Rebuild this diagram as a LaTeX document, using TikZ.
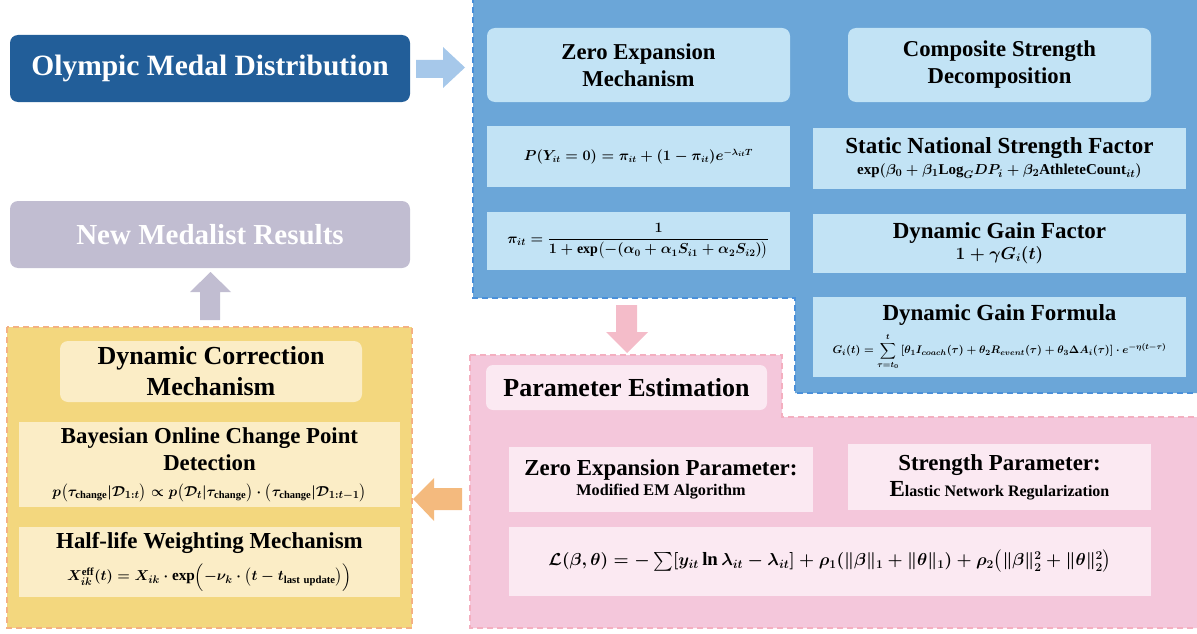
\documentclass[tikz,border=0pt]{standalone}
\usepackage{amsmath,amssymb}
\usepackage{fontspec}
\setmainfont{Liberation Serif}
\definecolor{cOly}{HTML}{225E99}
\definecolor{cNew}{HTML}{C1BDD1}
\definecolor{cBluePanel}{HTML}{6BA6D8}
\definecolor{cBlueBorder}{HTML}{4A90DA}
\definecolor{cBlueBox}{HTML}{C2E3F5}
\definecolor{cPinkPanel}{HTML}{F4C7DB}
\definecolor{cPinkBorder}{HTML}{F4AFC0}
\definecolor{cPinkBox}{HTML}{FBE9F2}
\definecolor{cYelPanel}{HTML}{F3D77E}
\definecolor{cYelBorder}{HTML}{F4B183}
\definecolor{cYelBox}{HTML}{FBEDC6}
\definecolor{cArrBlue}{HTML}{A6C8EA}
\definecolor{cArrPink}{HTML}{F4BCC9}
\definecolor{cArrOrange}{HTML}{F4BA7E}
\newcommand\fsz[2]{\fontsize{#1}{#2}\selectfont}
\begin{document}
\begin{tikzpicture}[x=1pt,y=-1pt,
  every node/.style={inner sep=0pt, align=center},
  fnt/.style 2 args={font=\bfseries\boldmath\fsz{#1}{#2}},
  panel/.style={dash pattern=on 6pt off 4pt, line width=1.5pt},
  titlebox/.style={rounded corners=8pt, minimum width=#1},
  flatbox/.style={minimum width=#1},
  arrowshape/.style={fill=#1, draw=none}]
\useasboundingbox (0,0) rectangle (1197,634);
% panels
\draw[panel, fill=cBluePanel, draw=cBlueBorder]
  (473,-3) -- (1200,-3) -- (1200,393) -- (795,393) -- (795,298) -- (473,298) -- cycle;
\draw[panel, fill=cPinkPanel, draw=cPinkBorder]
  (470,355) -- (782,355) -- (782,417) -- (1200,417) -- (1200,628) -- (470,628) -- cycle;
\draw[panel, fill=cYelPanel, draw=cYelBorder] (7,327) rectangle (412,628);
% left boxes
\node[titlebox=400pt, minimum height=67pt, fill=cOly, text=white, fnt={29.5}{32}] (oly) at (210,68.5)
  {Olympic Medal Distribution};
\node[titlebox=400pt, minimum height=67pt, fill=cNew, text=white, fnt={29}{32}] (newm) at (210,234.5)
  {New Medalist Results};
% blue panel contents
\node[titlebox=303pt, minimum height=74pt, fill=cBlueBox, fnt={22.7}{27}] (zem) at (638.5,65)
  {Zero Expansion\\Mechanism};
\node[flatbox=303pt, minimum height=61pt, fill=cBlueBox, fnt={13.5}{16}] (pY) at (638.5,156.5)
  {$P(Y_{it}=0)=\pi_{it}+(1-\pi_{it})e^{-\lambda_{it}T}$};
\node[flatbox=303pt, minimum height=58pt, fill=cBlueBox, fnt={14}{16}] (pi) at (638.5,241)
  {$\pi_{it}=\dfrac{1}{1+\exp\bigl(-(\alpha_0+\alpha_1S_{i1}+\alpha_2S_{i2})\bigr)}$};
\node[titlebox=303pt, minimum height=74pt, fill=cBlueBox, fnt={22.7}{27}] (csd) at (999.5,65)
  {Composite Strength\\Decomposition};
\node[flatbox=373pt, minimum height=61pt, fill=cBlueBox, fnt={23}{21}] (snf) at (999.5,158)
  {Static National Strength Factor\\
   \fsz{15}{21}$\exp(\beta_0+\beta_1\mathrm{Log}_G DP_i+\beta_2\mathrm{AthleteCount}_{it})$};
\node[flatbox=373pt, minimum height=59pt, fill=cBlueBox, fnt={23}{21}] (dgf) at (999.5,243)
  {Dynamic Gain Factor\\
   \fsz{16}{21}$1+\gamma G_i(t)$};
\node[flatbox=373pt, minimum height=80pt, fill=cBlueBox, fnt={23}{22}] (dgform) at (999.5,337)
  {Dynamic Gain Formula\\[7pt]
   \fsz{11.2}{22}$\displaystyle G_i(t)=\sum_{\tau=t_0}^{t}\,[\theta_1 I_{coach}(\tau)+\theta_2R_{event}(\tau)+\theta_3\Delta A_i(\tau)]\cdot e^{-\eta(t-\tau)}$};
% pink panel contents
\node[titlebox=281pt, minimum height=45pt, fill=cPinkBox, rounded corners=7pt, fnt={26}{28}] (pe) at (626.5,387.5)
  {Parameter Estimation};
\node[flatbox=304pt, minimum height=65pt, fill=cPinkBox, fnt={22.9}{20}] (zep) at (661,479.5)
  {Zero Expansion Parameter:\\\fsz{16.2}{20}Modified EM Algorithm};
\node[flatbox=303pt, minimum height=66pt, fill=cPinkBox, fnt={22.9}{26}] (sp) at (999.5,477)
  {Strength Parameter:\\\fsz{16}{26}{\fsz{23}{26}E}lastic Network Regularization};
\node[flatbox=642pt, minimum height=69pt, fill=cPinkBox, fnt={18.8}{20}] (loss) at (830,561.5)
  {$\mathcal{L}(\beta,\theta)=-\sum[y_{it}\ln\lambda_{it}-\lambda_{it}]+\rho_1(\|\beta\|_1+\|\theta\|_1)+\rho_2\bigl(\|\beta\|_2^2+\|\theta\|_2^2\bigr)$};
% yellow panel contents
\node[titlebox=302pt, minimum height=61pt, fill=cYelBox, fnt={26}{31}] (dcm) at (211,371.5)
  {Dynamic Correction\\Mechanism};
\node[flatbox=381pt, minimum height=85pt, fill=cYelBox, fnt={22.8}{27}] (bocpd) at (209.5,464.5)
  {Bayesian Online Change Point\\Detection\\[-1pt]
   \fsz{15}{20}$p\bigl(\tau_{\mathrm{change}}|\mathcal{D}_{1:t}\bigr)\propto p\bigl(\mathcal{D}_t|\tau_{\mathrm{change}}\bigr)\cdot\bigl(\tau_{\mathrm{change}}|\mathcal{D}_{1:t-1}\bigr)$};
\node[flatbox=381pt, minimum height=70pt, fill=cYelBox, fnt={22.9}{29}] (hl) at (209.5,562)
  {Half-life Weighting Mechanism\\[3pt]
   \fsz{15.3}{29}$X_{ik}^{\mathrm{eff}}(t)=X_{ik}\cdot\exp\Bigl(-\nu_k\cdot\bigl(t-t_{\mathrm{last\ update}}\bigr)\Bigr)$};
% block arrows
\fill[arrowshape=cArrBlue] (416,60) -- (443,60) -- (443,47) -- (465,67.5) -- (443,88) -- (443,78) -- (416,78) -- cycle;
\fill[arrowshape=cNew] (200,320) -- (200,292) -- (190,292) -- (210.5,272) -- (231,292) -- (220,292) -- (220,320) -- cycle;
\fill[arrowshape=cArrPink] (616,305) -- (637,305) -- (637,332) -- (648,332) -- (627,353) -- (606,332) -- (616,332) -- cycle;
\fill[arrowshape=cArrOrange] (462,488) -- (434,488) -- (434,478) -- (413,499) -- (434,521) -- (434,510) -- (462,510) -- cycle;
\end{tikzpicture}
\end{document}
